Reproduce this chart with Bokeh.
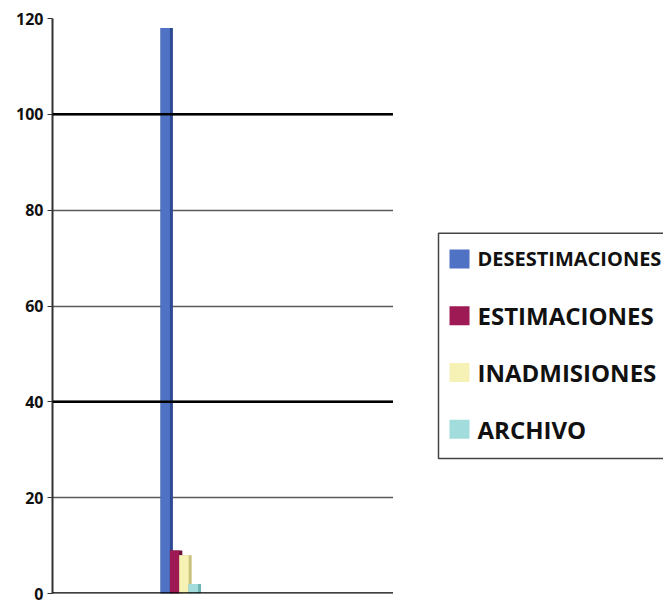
from bokeh.plotting import figure
from bokeh.layouts import row
from bokeh.models import Range1d, FixedTicker, Span, ColumnDataSource
from bokeh.core.properties import value
from bokeh.embed import file_html
from bokeh.resources import INLINE

# Series (one bar each, grouped in the second category slot)
series = ["DESESTIMACIONES", "ESTIMACIONES", "INADMISIONES", "ARCHIVO"]
counts = [118, 9, 8, 2]
face_colors = ["#4f72c4", "#9e1a55", "#f6f1b4", "#a2dcdc"]
side_colors = ["#2f4a93", "#6a0f39", "#c9c27d", "#6fb3b3"]

# Axis ticks
y_ticks = [0, 20, 40, 60, 80, 100, 120]
dark_grid_values = [100, 40]

group_center = 1.5
offsets = [-0.16, -0.05, 0.06, 0.17]
bar_width = 0.145
face_width = 0.11

FONT = "Open Sans"

p = figure(width=393, height=605, x_range=Range1d(0, 4), y_range=Range1d(0, 120),
           min_border_left=52, min_border_right=0, min_border_top=18, min_border_bottom=12,
           toolbar_location=None, output_backend="svg")
p.outline_line_color = None
p.background_fill_color = "white"
p.border_fill_color = "white"

# y axis
p.yaxis.ticker = FixedTicker(ticks=y_ticks)
p.yaxis.axis_line_color = "#333333"
p.yaxis.axis_line_width = 2
p.yaxis.major_tick_out = 5
p.yaxis.major_tick_in = 0
p.yaxis.major_tick_line_color = "#333333"
p.yaxis.minor_tick_line_color = None
p.yaxis.major_label_text_font = FONT
p.yaxis.major_label_text_font_style = "bold"
p.yaxis.major_label_text_font_size = "16px"
p.yaxis.major_label_text_color = "#111111"
p.yaxis.major_label_standoff = 4

# x axis carries no labels: only its base line is drawn
p.xaxis.visible = False
p.add_layout(Span(location=0, dimension="width", line_color="black", line_width=2.5))

p.xgrid.grid_line_color = None
p.ygrid.grid_line_color = "#5a5a5a"
p.ygrid.grid_line_width = 1.6

for v in dark_grid_values:
    p.add_layout(Span(location=v, dimension="width", line_color="black", line_width=2.5))

# bars with a darker right side for a shallow 3D look
for name, val, off, fc, sc in zip(series, counts, offsets, face_colors, side_colors):
    cx = group_center + off
    src = ColumnDataSource(dict(x=[cx], top=[val]))
    p.vbar(x="x", top="top", bottom=0, width=bar_width, source=src,
           fill_color=sc, line_color=None)
    src_face = ColumnDataSource(dict(x=[cx - (bar_width - face_width) / 2], top=[val]))
    p.vbar(x="x", top="top", bottom=0, width=face_width, source=src_face,
           fill_color=fc, line_color=None)

# legend panel drawn in pixel coordinates
leg = figure(width=270, height=605, x_range=Range1d(0, 270), y_range=Range1d(605, 0),
             min_border=0, toolbar_location=None, output_backend="svg")
leg.axis.visible = False
leg.grid.visible = False
leg.outline_line_color = None

leg.quad(left=45, right=300, top=226, bottom=463, fill_color=None,
         line_color="#444444", line_width=1.5)

row_y = [253 + 59.7 * i for i in range(len(series))]
leg.rect(x=[66] * len(series), y=row_y, width=20, height=20,
         fill_color=face_colors, line_color=None)

leg.text(x=[84], y=row_y[:1], text=series[:1], text_baseline="middle", text_align="left",
         text_font=value(FONT), text_font_style="bold", text_font_size="20px",
         text_color="#111111")
leg.text(x=[84] * (len(series) - 1), y=row_y[1:], text=series[1:], text_baseline="middle",
         text_align="left", text_font=value(FONT), text_font_style="bold",
         text_font_size="24px", text_color="#111111")

layout = row(p, leg)
open("out.html", "w").write(file_html(layout, INLINE))
